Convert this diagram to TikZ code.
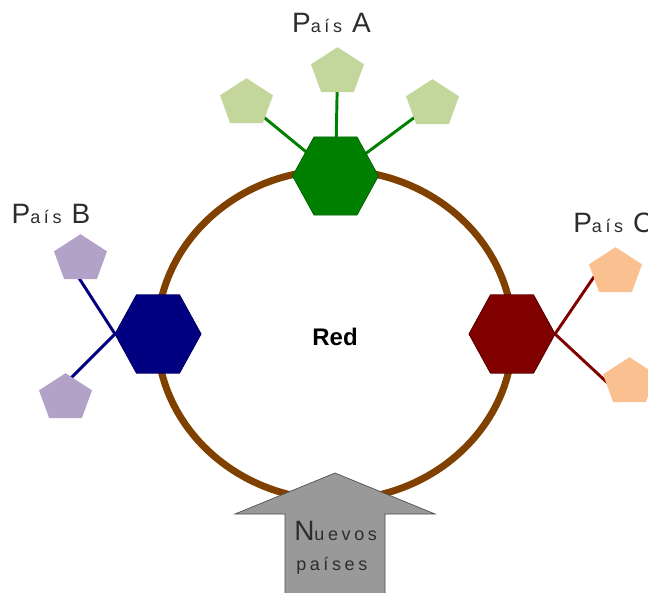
\documentclass[tikz,border=0pt]{standalone}
\usepackage{fontspec}
\setmainfont{Liberation Sans}
\newfontfamily\lblfont[LetterSpace=8]{Liberation Sans}
\newfontfamily\lowfont[LetterSpace=20]{Liberation Sans}
\usetikzlibrary{shapes.geometric,calc}
\definecolor{ringbrown}{RGB}{128,64,0}
\definecolor{hgreen}{RGB}{0,128,0}
\definecolor{hblue}{RGB}{0,0,128}
\definecolor{hred}{RGB}{128,0,0}
\definecolor{pgreen}{RGB}{195,214,155}
\definecolor{pblue}{RGB}{179,162,199}
\definecolor{pred}{RGB}{250,192,144}
\definecolor{arrgray}{RGB}{153,153,153}
\definecolor{txtgray}{RGB}{45,45,45}
\newcommand{\capsz}[1]{{\lblfont\fontsize{21}{21}\selectfont #1}}
\newcommand{\lowsz}[1]{{\lowfont\fontsize{13.5}{14}\selectfont #1}}
\tikzset{
  hexa/.style={regular polygon, regular polygon sides=6, minimum size=64.5pt,
    inner sep=0pt, outer sep=0pt, yscale=1.05, line width=0.5pt},
  penta/.style={regular polygon, regular polygon sides=5, minimum size=41.8pt,
    inner sep=0pt, outer sep=0pt, yscale=0.89},
  link/.style={line width=2.2pt},
  lbl/.style={inner sep=0pt, text=txtgray},
}
\begin{document}
\begin{tikzpicture}[x=0.75pt,y=-0.75pt]
\useasboundingbox (0,0) rectangle (648,592);
\clip (0,0) rectangle (648,592);
% ring
\draw[ringbrown, line width=5.25pt] (335,335) ellipse [x radius=133.5pt, y radius=123.75pt];
% coordinates of nodes
\coordinate (cA) at (335.5,176);
\coordinate (cB) at (158,334);
\coordinate (cC) at (512,334);
\coordinate (pA1) at (246.5,103);
\coordinate (pA2) at (337.5,72);
\coordinate (pA3) at (432.5,104);
\coordinate (pB1) at (80.5,259);
\coordinate (pB2) at (65.5,398);
\coordinate (pC1) at (615.5,272);
\coordinate (pC2) at (629.5,382);
% hexagons (positions first, to get anchors)
\node[hexa, fill=hblue, draw=hblue!80!black] (hexB) at (cB) {};
\node[hexa, fill=hred, draw=hred!70!black] (hexC) at (cC) {};
% links
\draw[link, hgreen] (pA1) -- (cA);
\draw[link, hgreen] (pA2) -- (cA);
\draw[link, hgreen] (pA3) -- (cA);
\draw[link, hblue] (hexB.west) -- ($(pB1)+(-8,9)$);
\draw[link, hblue] (hexB.west) -- ($(pB2)+(-6.5,-8)$);
\draw[link, hred] (hexC.east) -- ($(pC1)+(-15.5,-4)$);
\draw[link, hred] (hexC.east) -- ($(pC2)+(-16.5,6)$);
% hexagons on top
\node[hexa, fill=hgreen, draw=hgreen!70!black] (hexA) at (cA) {};
\node[hexa, fill=hblue, draw=hblue!80!black] at (cB) {};
\node[hexa, fill=hred, draw=hred!70!black] at (cC) {};
% pentagons
\node[penta, fill=pgreen] (penA1) at (pA1) {};
\node[penta, fill=pgreen] (penA2) at (pA2) {};
\node[penta, fill=pgreen] (penA3) at (pA3) {};
\node[penta, fill=pblue] (penB1) at (pB1) {};
\node[penta, fill=pblue] (penB2) at (pB2) {};
\node[penta, fill=pred] (penC1) at (pC1) {};
\node[penta, fill=pred] (penC2) at (pC2) {};
% arrow
\draw[fill=arrgray, draw=black!70, line width=0.5pt]
  (335,473) -- (435,514) -- (385,514) -- (385,600) -- (285,600) -- (285,514) -- (235,514) -- cycle;
% labels
\node[lbl, anchor=base] (labA) at (331.5,33) {\capsz{P}\lowsz{aís}\capsz{ A}};
\node[lbl, anchor=base] (labB) at (51,223) {\capsz{P}\lowsz{aís}\capsz{ B}};
\node[lbl, anchor=base west] (labC) at (573,232) {\capsz{P}\lowsz{aís}\capsz{ C}};
\node[lbl, anchor=base west] (nuevos) at (294,540) {\capsz{N}\lowsz{uevos}};
\node[lbl, anchor=base west] (paises) at (296,570) {\lowsz{países}};
\node[anchor=base, inner sep=0pt, font=\bfseries\fontsize{18}{18}\selectfont] (red) at (335,345) {Red};
\end{tikzpicture}
\end{document}
